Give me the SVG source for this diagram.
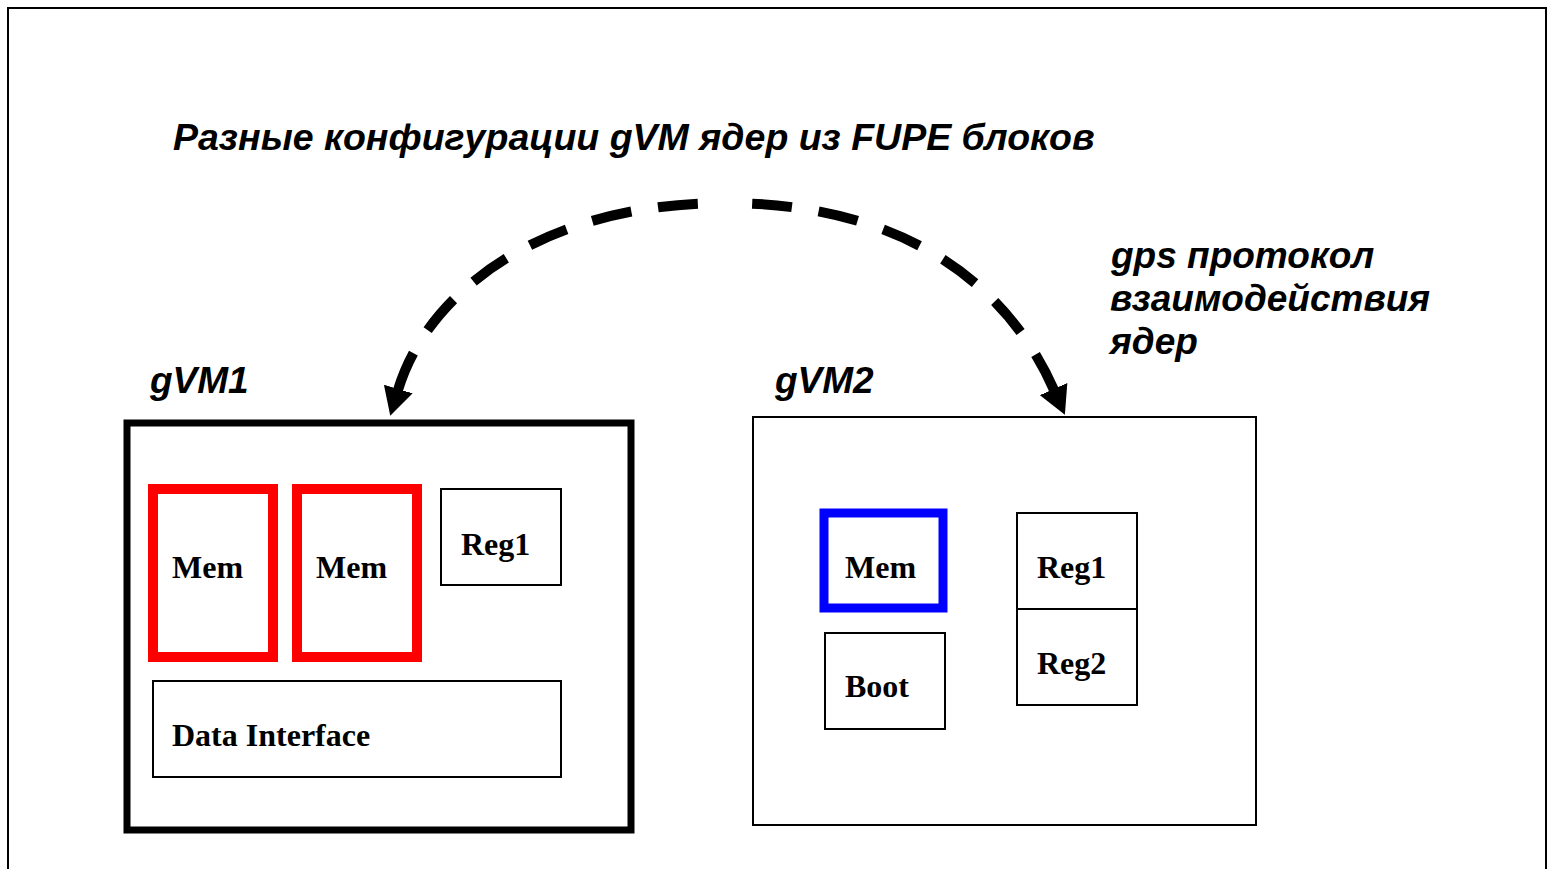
<svg xmlns="http://www.w3.org/2000/svg" width="1551" height="869" viewBox="0 0 1551 869">
<style>
.lbl{font-family:"Liberation Sans",Arial,sans-serif;font-weight:bold;font-style:italic;font-size:37px;fill:#000}
.ttl{font-size:37.5px}
.blk{font-family:"Liberation Serif","Times New Roman",serif;font-weight:bold;font-size:32px;fill:#000}
.box{fill:#fff;stroke:#000;stroke-width:2}
.red{fill:#fff;stroke:#ff0000;stroke-width:10}
.blue{fill:#fff;stroke:#0000ff;stroke-width:9}
.dash{fill:none;stroke:#000;stroke-width:10;stroke-dasharray:40 27}
</style>
<defs>
<marker id="ah" viewBox="0 0 28 30" markerWidth="28" markerHeight="30" refX="1" refY="15" orient="auto-start-reverse" markerUnits="userSpaceOnUse">
<path d="M0,0 L28,15 L0,30 z" fill="#000"/>
</marker>
</defs>
<rect x="0" y="0" width="1551" height="869" fill="#fff"/>
<rect x="8" y="8" width="1538" height="900" fill="none" stroke="#000" stroke-width="2"/>
<text class="lbl ttl" x="173" y="150">Разные конфигурации gVM ядер из FUPE блоков</text>
<g id="connectors">
<path class="dash" pathLength="402" d="M398,390 C428,290 545,203 725,203" marker-start="url(#ah)"/>
<path class="dash" pathLength="402" d="M1054,390 C1010,290 910,203 725,203" marker-start="url(#ah)"/>
</g>
<g id="gps-label">
<text class="lbl" x="1111" y="268">gps протокол</text>
<text class="lbl" x="1110" y="311">взаимодействия</text>
<text class="lbl" x="1110" y="354">ядер</text>
</g>
<g id="gVM1">
<text class="lbl" x="150" y="393">gVM1</text>
<rect x="127" y="423" width="504" height="407" fill="#fff" stroke="#000" stroke-width="7"/>
<g id="gvm1-mem1"><rect class="red" x="153" y="489" width="120" height="168"/><text class="blk" x="172" y="578">Mem</text></g>
<g id="gvm1-mem2"><rect class="red" x="297" y="489" width="120" height="168"/><text class="blk" x="316" y="578">Mem</text></g>
<g id="gvm1-reg1"><rect class="box" x="441" y="489" width="120" height="96"/><text class="blk" x="461" y="555">Reg1</text></g>
<g id="gvm1-data"><rect class="box" x="153" y="681" width="408" height="96"/><text class="blk" x="172" y="746">Data Interface</text></g>
</g>
<g id="gVM2">
<text class="lbl" x="775" y="393">gVM2</text>
<rect class="box" x="753" y="417" width="503" height="408"/>
<g id="gvm2-mem"><rect class="blue" x="824" y="513" width="119" height="95"/><text class="blk" x="845" y="578">Mem</text></g>
<g id="gvm2-boot"><rect class="box" x="825" y="633" width="120" height="96"/><text class="blk" x="845" y="697">Boot</text></g>
<g id="gvm2-reg1"><rect class="box" x="1017" y="513" width="120" height="96"/><text class="blk" x="1037" y="578">Reg1</text></g>
<g id="gvm2-reg2"><rect class="box" x="1017" y="609" width="120" height="96"/><text class="blk" x="1037" y="674">Reg2</text></g>
</g>
</svg>
